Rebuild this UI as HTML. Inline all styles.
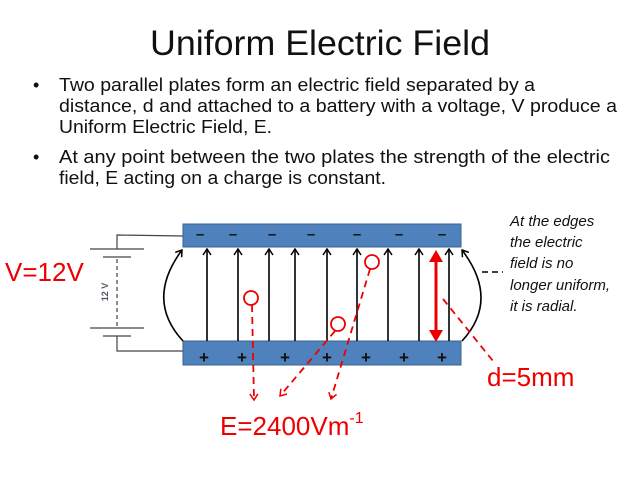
<!DOCTYPE html>
<html><head><style>
body{margin:0;background:#fff;}
svg{display:block;}
text{font-family:"Liberation Sans",sans-serif;}
</style></head><body>
<svg width="640" height="480" viewBox="0 0 640 480" xmlns="http://www.w3.org/2000/svg">
<defs>
<marker id="ab" markerWidth="10" markerHeight="10" refX="9" refY="5" orient="auto" markerUnits="userSpaceOnUse">
<path d="M3,1 L9,5 L3,9" fill="none" stroke="#000" stroke-width="1.5"/></marker>
<marker id="ar" markerWidth="10" markerHeight="10" refX="8" refY="5" orient="auto" markerUnits="userSpaceOnUse">
<path d="M2,1 L8,5 L2,9" fill="none" stroke="#e00" stroke-width="1.5"/></marker>
</defs>
<text x="320" y="55" font-size="35" text-anchor="middle" textLength="340" lengthAdjust="spacingAndGlyphs" fill="#111">Uniform Electric Field</text>
<g font-size="18" fill="#111">
<text x="33" y="91">•</text>
<text x="59" y="91" textLength="476" lengthAdjust="spacingAndGlyphs">Two parallel plates form an electric field separated by a</text>
<text x="59" y="112" textLength="558" lengthAdjust="spacingAndGlyphs">distance, d and attached to a battery with a voltage, V produce a</text>
<text x="59" y="133" textLength="213" lengthAdjust="spacingAndGlyphs">Uniform Electric Field, E.</text>
<text x="33" y="163">•</text>
<text x="59" y="163" textLength="551" lengthAdjust="spacingAndGlyphs">At any point between the two plates the strength of the electric</text>
<text x="59" y="184" textLength="327" lengthAdjust="spacingAndGlyphs">field, E acting on a charge is constant.</text>
</g>
<g font-size="15" font-style="italic" fill="#111">
<text x="510" y="226">At the edges</text>
<text x="510" y="247">the electric</text>
<text x="510" y="268">field is no</text>
<text x="510" y="290">longer uniform,</text>
<text x="510" y="311">it is radial.</text>
</g>
<line x1="482" y1="272" x2="503" y2="272" stroke="#000" stroke-width="1.5" stroke-dasharray="6,4"/>
<g stroke="#444" stroke-width="1.2" fill="none">
<path d="M183,236 L117,235 L117,249"/>
<line x1="90" y1="249" x2="144" y2="249"/>
<line x1="103" y1="257" x2="131" y2="257"/>
<line x1="117" y1="259" x2="117" y2="326" stroke-dasharray="4,3"/>
<line x1="90" y1="328" x2="144" y2="328"/>
<line x1="103" y1="336" x2="131" y2="336"/>
<path d="M117,336 L117,351 L183,351"/>
</g>
<text x="108" y="292" font-size="9" font-weight="bold" fill="#556" transform="rotate(-90 108 292)" text-anchor="middle">12 V</text>
<rect x="183" y="224" width="278" height="23" fill="#4f81bd" stroke="#3a6290"/>
<rect x="183" y="341" width="278" height="24" fill="#4f81bd" stroke="#3a6290"/>
<g font-size="15" font-weight="bold" fill="#111" text-anchor="middle">
<text x="200" y="239">–</text><text x="233" y="239">–</text><text x="272" y="239">–</text><text x="311" y="239">–</text><text x="357" y="239">–</text><text x="399" y="239">–</text><text x="442" y="239">–</text>
</g>
<g font-size="17" font-weight="bold" fill="#111" text-anchor="middle">
<text x="204" y="363">+</text><text x="242" y="363">+</text><text x="285" y="363">+</text><text x="327" y="363">+</text><text x="366" y="363">+</text><text x="404" y="363">+</text><text x="442" y="363">+</text>
</g>
<g stroke="#000" stroke-width="1.6" fill="none" marker-end="url(#ab)">
<line x1="207" y1="341" x2="207" y2="249"/>
<line x1="238" y1="341" x2="238" y2="249"/>
<line x1="269" y1="341" x2="269" y2="249"/>
<line x1="295" y1="341" x2="295" y2="249"/>
<line x1="327" y1="341" x2="327" y2="249"/>
<line x1="357" y1="341" x2="357" y2="249"/>
<line x1="388" y1="341" x2="388" y2="249"/>
<line x1="419" y1="341" x2="419" y2="249"/>
<line x1="449" y1="341" x2="449" y2="249"/>
<path d="M183,341 Q145,300 182,250"/>
<path d="M462,341 Q500,300 462,250"/>
</g>
<line x1="436" y1="256" x2="436" y2="336" stroke="#e00" stroke-width="3"/>
<path d="M429,262 L436,250 L443,262 Z M429,330 L436,342 L443,330 Z" fill="#e00"/>
<g stroke="#e00" stroke-width="1.8" fill="none">
<circle cx="251" cy="298" r="7"/>
<circle cx="372" cy="262" r="7"/>
<circle cx="338" cy="324" r="7"/>
<g stroke-dasharray="7,5" marker-end="url(#ar)">
<line x1="252" y1="305" x2="254" y2="400"/>
<line x1="335" y1="331" x2="280" y2="396"/>
<line x1="370" y1="269" x2="331" y2="399"/>
</g>
<line x1="443" y1="299" x2="493" y2="361" stroke-dasharray="7,5"/>
</g>
<g fill="#e00" font-size="26">
<text x="5" y="281">V=12V</text>
<text x="487" y="386">d=5mm</text>
<text x="220" y="435">E=2400Vm<tspan font-size="16" dy="-12">-1</tspan></text>
</g>
</svg>
</body></html>
